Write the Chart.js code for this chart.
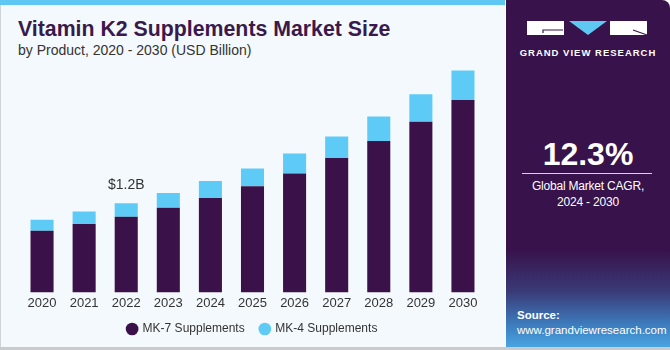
<!DOCTYPE html>
<html>
<head>
<meta charset="utf-8">
<script src="https://cdn.jsdelivr.net/npm/chart.js@4"></script>
<style>
  html, body { margin: 0; padding: 0; }
  body { width: 670px; height: 350px; position: relative; overflow: hidden; background: #ffffff; font-family: "Liberation Sans", Arial, sans-serif; }
  #left { position: absolute; left: 0; top: 0; width: 505px; height: 347px; background: #f4f9fd; border-left: 1px solid #d0d4d8; box-sizing: border-box; }
  #stripe { position: absolute; left: 0; top: 0; width: 505px; height: 5px; background: #5ec8f2; }
  #bottomline { position: absolute; left: 0; top: 347px; width: 670px; height: 3px; background: #c9cbcd; }
  #title { position: absolute; left: 18px; top: 17px; font-size: 21.3px; font-weight: bold; color: #3a1a4b; }
  #subtitle { position: absolute; left: 18px; top: 42px; font-size: 14px; color: #333; }
  #chartbox { position: absolute; left: 0; top: 63px; width: 505px; height: 290px; }
  #right { position: absolute; left: 506px; top: 0; width: 164px; height: 347px; border-top-right-radius: 8px; overflow: hidden;
    background: linear-gradient(to bottom, #38124a 0%, #38124a 72%, #3a3a78 84%, #3d7fc0 94%, #4aa4e0 100%); }
  #cagr { position: absolute; left: 0; width: 164px; top: 136px; text-align: center; color: #fff; font-size: 32px; font-weight: bold; }
  #rule { position: absolute; left: 16px; width: 130px; top: 173px; height: 1px; background: #d9d0e0; }
  #cagrtxt { position: absolute; left: 0; width: 164px; top: 178px; text-align: center; color: #fff; font-size: 12px; line-height: 16px; letter-spacing: -0.2px; }
  #src { position: absolute; left: 11px; top: 308px; color: #fff; font-size: 11.5px; line-height: 15px; }
  #brand { position: absolute; left: 0; width: 164px; top: 47px; text-align: center; color: #fff; font-size: 9.5px; font-weight: bold; letter-spacing: 1px; }
</style>
</head>
<body>
<div id="left"></div>
<div id="stripe"></div>
<div id="title">Vitamin K2 Supplements Market Size</div>
<div id="subtitle">by Product, 2020 - 2030 (USD Billion)</div>
<div id="chartbox"><canvas id="chart" width="505" height="290"></canvas></div>
<div id="right">
  <svg width="164" height="40" style="position:absolute;left:0;top:0">
    <rect x="21" y="21" width="37" height="14" fill="#fff"/>
    <path d="M37 33 V30 H57" stroke="#38124a" stroke-width="1.2" fill="none"/>
    <polygon points="63,21 101,21 82,35" fill="#5ec8f2"/>
    <rect x="104" y="21" width="37" height="14" fill="#fff"/>
    <path d="M127 30 L141 35" stroke="#38124a" stroke-width="1.2" fill="none"/>
  </svg>
  <div id="brand">GRAND VIEW RESEARCH</div>
  <div id="cagr">12.3%</div>
  <div id="rule"></div>
  <div id="cagrtxt">Global Market CAGR,<br>2024 - 2030</div>
  <div id="src"><b>Source:</b><br>www.grandviewresearch.com</div>
</div>
<div id="bottomline"></div>
<script>
const years = ['2020', '2021', '2022', '2023', '2024', '2025', '2026', '2027', '2028', '2029', '2030'];
const mk7 = [0.83, 0.92, 1.02, 1.14, 1.27, 1.43, 1.60, 1.81, 2.04, 2.30, 2.59];
const mk4 = [0.15, 0.17, 0.18, 0.20, 0.23, 0.24, 0.27, 0.29, 0.33, 0.37, 0.40];
const calloutIndex = 2;
const calloutText = '$1.2B';

const calloutPlugin = {
  id: 'callout',
  afterDatasetsDraw(chart) {
    const { ctx, scales } = chart;
    const total = mk7[calloutIndex] + mk4[calloutIndex];
    const x = scales.x.getPixelForValue(calloutIndex);
    const y = scales.y.getPixelForValue(total);
    ctx.save();
    ctx.font = '14px "Liberation Sans", Arial, sans-serif';
    ctx.fillStyle = '#333333';
    ctx.textAlign = 'center';
    ctx.textBaseline = 'bottom';
    ctx.fillText(calloutText, x, y - 11);
    ctx.restore();
  }
};

new Chart(document.getElementById('chart').getContext('2d'), {
  type: 'bar',
  data: {
    labels: years,
    datasets: [
      { label: 'MK-7 Supplements', data: mk7, backgroundColor: '#3a1249', barPercentage: 0.548, categoryPercentage: 1.0 },
      { label: 'MK-4 Supplements', data: mk4, backgroundColor: '#5ecbf6', barPercentage: 0.548, categoryPercentage: 1.0 }
    ]
  },
  options: {
    responsive: false,
    animation: false,
    layout: { padding: { left: 21, right: 21, top: 0, bottom: 8 } },
    scales: {
      x: {
        stacked: true,
        grid: { display: false, drawTicks: false },
        border: { display: false },
        ticks: { color: '#333', font: { size: 13, family: '"Liberation Sans", Arial, sans-serif' }, padding: 3 }
      },
      y: {
        stacked: true,
        display: false,
        min: 0,
        max: 3.09
      }
    },
    plugins: {
      legend: {
        position: 'bottom',
        labels: {
          usePointStyle: true,
          pointStyle: 'circle',
          boxWidth: 9,
          boxHeight: 9,
          padding: 9,
          color: '#333',
          font: { size: 12, family: '"Liberation Sans", Arial, sans-serif' },
          generateLabels(chart) {
            const items = Chart.defaults.plugins.legend.labels.generateLabels(chart);
            items.forEach((it, i) => { if (i === 0) it.text = it.text + '  '; });
            return items;
          }
        }
      },
      tooltip: { enabled: false }
    }
  },
  plugins: [calloutPlugin]
});
</script>
</body>
</html>
